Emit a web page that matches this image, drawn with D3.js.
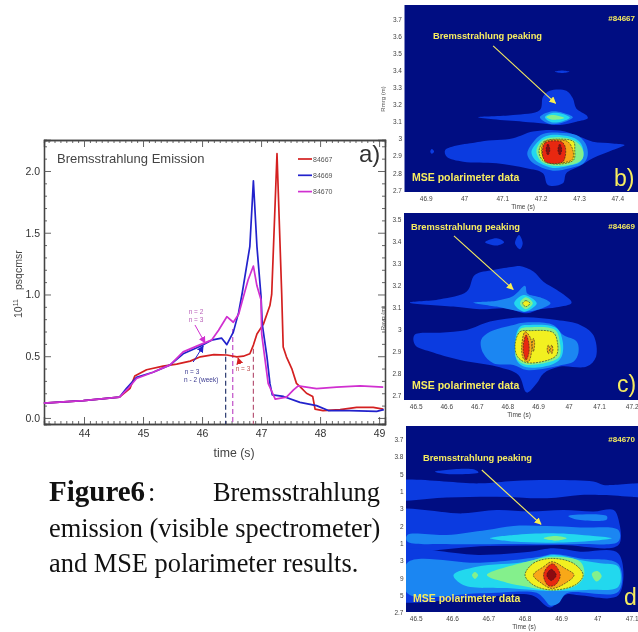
<!DOCTYPE html>
<html>
<head>
<meta charset="utf-8">
<script src="https://cdn.jsdelivr.net/npm/d3@7"></script>
<style>
  html, body { margin: 0; padding: 0; background: #fff; }
  svg { display: block; }
  text { font-family: "Liberation Sans", Arial, sans-serif; }
  .frame .domain { stroke: #444; stroke-width: 1.3; }
  .frame .tick line { stroke: #555; stroke-width: 0.9; }
  .frame .tick text { fill: #333; font-size: 10.5px; }
  .panel .tick text { fill: #444; font-size: 6.5px; }
  .panel .tick line, .panel .domain { display: none; }
</style>
</head>
<body>
<div id="chart"></div>
<script>
// ---- panel a) Bremsstrahlung emission ----
var sharedTime = [43.32, 43.99, 44.6];
var sharedValue = [0.12, 0.14, 0.168];

var time84667 = [44.78, 44.86, 45.06, 45.34, 45.57, 45.8, 45.97, 46.2, 46.42, 46.59, 46.7, 46.81, 46.87, 46.93, 47.04, 47.15, 47.18, 47.27, 47.35, 47.375, 47.43, 47.52, 47.6, 47.66, 47.77, 47.875, 47.915, 48.05, 48.34, 48.62, 48.9, 49.07];
var value84667 = [0.24, 0.34, 0.39, 0.42, 0.436, 0.46, 0.495, 0.513, 0.51, 0.495, 0.5, 0.52, 0.59, 0.68, 0.76, 0.91, 1.0, 2.14, 1.0, 0.575, 0.495, 0.4, 0.28, 0.254, 0.2, 0.174, 0.072, 0.06, 0.067, 0.085, 0.085, 0.072];

var time84669 = [44.72, 44.89, 45.17, 45.46, 45.68, 45.97, 46.16, 46.33, 46.42, 46.53, 46.62, 46.68, 46.81, 46.87, 46.93, 47.0, 47.02, 47.1, 47.15, 47.19, 47.38, 47.66, 47.94, 48.14, 48.5, 48.96, 49.08];
var value84669 = [0.24, 0.33, 0.37, 0.43, 0.52, 0.58, 0.63, 0.647, 0.594, 0.695, 0.855, 1.01, 1.39, 1.92, 1.39, 0.98, 0.76, 0.495, 0.28, 0.187, 0.174, 0.126, 0.1, 0.06, 0.06, 0.053, 0.067];

var time84670 = [44.75, 44.89, 45.17, 45.46, 45.68, 45.97, 46.16, 46.28, 46.42, 46.53, 46.62, 46.7, 46.78, 46.87, 46.93, 47.0, 47.01, 47.12, 47.24, 47.43, 47.55, 47.63, 47.94, 48.28, 48.68, 49.07];
var value84670 = [0.24, 0.32, 0.37, 0.43, 0.535, 0.594, 0.63, 0.71, 0.82, 0.775, 0.84, 0.98, 1.117, 1.23, 1.07, 0.955, 0.68, 0.28, 0.152, 0.168, 0.227, 0.26, 0.238, 0.25, 0.26, 0.249];

var seriesNames = ['84667', '84669', '84670'];
var seriesColors = ['#d42020', '#2222cc', '#d030d0'];

var xTickLabels = [44, 45, 46, 47, 48, 49];
var yTickLabels = [0, 0.5, 1, 1.5, 2];

// 放電ごとの破線 [time, top value]
var dashTimes = [46.4, 46.52, 46.87];
var dashTops = [0.56, 0.72, 0.56];
var dashColors = ['#2b3a70', '#c050c8', '#b85878'];

// ---- contour panels: [level, [[time, R], ...]] ----
var levelColors = ['#000d82', '#0b3be0', '#1b86f2', '#22d8ee', '#84f08c', '#f2f020', '#f8a818', '#e82810', '#8c0a10'];

var regions84667 = [
  [1, [[46.951,2.934],[47.042,2.983],[47.128,3.003],[47.18,3.042],[47.25,3.048],[47.30,3.013],[47.336,2.983],[47.388,2.973],[47.419,2.964],[47.388,2.934],[47.336,2.886],[47.30,2.837],[47.267,2.798],[47.258,2.739],[47.219,2.729],[47.206,2.798],[47.163,2.827],[47.085,2.856],[46.998,2.866],[46.955,2.895]]],
  [1, [[47.037,3.126],[47.128,3.139],[47.198,3.169],[47.206,3.247],[47.224,3.282],[47.267,3.282],[47.284,3.237],[47.293,3.178],[47.319,3.139],[47.323,3.12],[47.293,3.10],[47.25,3.081],[47.206,3.09],[47.154,3.10],[47.076,3.114]]],
  [1, [[47.237,3.393],[47.256,3.40],[47.275,3.393],[47.256,3.386]]],
  [1, [[46.912,2.925],[46.916,2.94],[46.922,2.925],[46.916,2.912]]],
  [2, [[47.165,2.915],[47.185,2.993],[47.206,3.028],[47.25,3.036],[47.293,3.022],[47.317,2.973],[47.323,2.905],[47.312,2.856],[47.276,2.827],[47.232,2.813],[47.189,2.846],[47.172,2.876]]],
  [3, [[47.176,2.925],[47.193,2.983],[47.215,3.016],[47.25,3.022],[47.289,3.003],[47.306,2.97],[47.312,2.905],[47.302,2.862],[47.271,2.84],[47.232,2.829],[47.198,2.856],[47.182,2.886]]],
  [4, [[47.189,2.934],[47.206,2.993],[47.25,3.009],[47.293,2.983],[47.31,2.934],[47.31,2.886],[47.293,2.856],[47.241,2.841],[47.206,2.86],[47.193,2.895]]],
  [5, [[47.196,2.934],[47.208,2.983],[47.25,2.998],[47.286,2.983],[47.289,2.934],[47.286,2.876],[47.25,2.852],[47.21,2.866],[47.199,2.895]]],
  [6, [[47.202,2.934],[47.211,2.983],[47.25,2.993],[47.271,2.983],[47.284,2.934],[47.283,2.88],[47.258,2.86],[47.213,2.872]]],
  [7, [[47.205,2.934],[47.212,2.977],[47.254,2.983],[47.264,2.954],[47.264,2.895],[47.256,2.862],[47.215,2.862],[47.206,2.895]]],
  [8, [[47.219,2.97],[47.224,2.934],[47.219,2.905],[47.214,2.934]]],
  [8, [[47.25,2.97],[47.255,2.934],[47.25,2.905],[47.245,2.934]]],
  [2, [[47.198,3.126],[47.224,3.159],[47.258,3.153],[47.284,3.126],[47.258,3.095],[47.224,3.087]]],
  [3, [[47.211,3.126],[47.228,3.15],[47.258,3.145],[47.276,3.124],[47.258,3.103],[47.228,3.097]]],
  [4, [[47.215,3.128],[47.23,3.14],[47.262,3.122],[47.23,3.112]]]
];

var regions84669 = [
  [1, [[46.496,2.975],[46.58,2.986],[46.667,2.998],[46.743,3.036],[46.852,3.056],[46.961,3.043],[47.038,3.021],[47.081,2.975],[47.09,2.877],[47.059,2.832],[46.972,2.832],[46.918,2.801],[46.896,2.756],[46.863,2.714],[46.836,2.794],[46.765,2.832],[46.645,2.862],[46.547,2.90],[46.498,2.93]]],
  [2, [[46.714,2.953],[46.743,2.99],[46.82,3.021],[46.852,3.031],[46.95,3.021],[46.983,2.975],[47.027,2.945],[47.032,2.892],[47.016,2.854],[46.977,2.839],[46.928,2.824],[46.863,2.816],[46.82,2.839],[46.754,2.847],[46.721,2.892]]],
  [3, [[46.825,2.945],[46.841,3.013],[46.874,3.021],[46.961,3.006],[46.981,2.945],[46.977,2.877],[46.95,2.844],[46.863,2.829],[46.833,2.854]]],
  [4, [[46.825,2.922],[46.841,3.001],[46.874,3.01],[46.956,2.998],[46.972,2.938],[46.97,2.877],[46.939,2.854],[46.858,2.842],[46.83,2.869]]],
  [5, [[46.825,2.93],[46.841,2.99],[46.874,2.995],[46.95,2.986],[46.964,2.938],[46.961,2.885],[46.934,2.862],[46.863,2.85],[46.833,2.877]]],
  [6, [[46.847,2.93],[46.858,2.99],[46.876,2.96],[46.879,2.90],[46.868,2.854],[46.852,2.869]]],
  [7, [[46.852,2.93],[46.861,2.975],[46.87,2.938],[46.87,2.892],[46.861,2.862],[46.853,2.892]]],
  [6, [[46.885,2.96],[46.889,2.94],[46.885,2.90],[46.881,2.93]]],
  [6, [[46.934,2.93],[46.938,2.91],[46.934,2.89],[46.93,2.91]]],
  [6, [[46.945,2.93],[46.949,2.91],[46.945,2.89],[46.941,2.91]]],
  [1, [[46.481,3.122],[46.58,3.137],[46.667,3.172],[46.694,3.248],[46.754,3.27],[46.819,3.285],[46.841,3.288],[46.885,3.263],[46.918,3.217],[46.961,3.18],[47.01,3.122],[46.961,3.101],[46.907,3.092],[46.863,3.074],[46.798,3.096],[46.71,3.092],[46.623,3.104]]],
  [1, [[46.727,3.396],[46.765,3.414],[46.789,3.396],[46.765,3.381]]],
  [1, [[46.825,3.391],[46.838,3.429],[46.85,3.391],[46.841,3.364]]],
  [2, [[46.689,3.122],[46.765,3.131],[46.819,3.152],[46.858,3.198],[46.865,3.164],[46.907,3.146],[46.941,3.119],[46.907,3.093],[46.852,3.081],[46.765,3.104]]],
  [3, [[46.822,3.119],[46.854,3.157],[46.896,3.119],[46.854,3.081]]],
  [4, [[46.841,3.119],[46.86,3.146],[46.883,3.119],[46.86,3.092]]],
  [5, [[46.85,3.119],[46.86,3.131],[46.874,3.119],[46.86,3.104]]]
];

var regions84670 = [
  [1, [[46.553,3.513],[46.659,3.527],[46.673,3.508],[46.586,3.50]]],
  [1, [[46.42,3.446],[46.677,3.446],[46.769,3.46],[46.879,3.465],[46.989,3.456],[47.017,3.437],[47.045,3.437],[47.18,3.437],[47.18,3.379],[47.017,3.379],[46.953,3.379],[46.861,3.36],[46.723,3.369],[46.585,3.365],[46.42,3.36]]],
  [1, [[46.42,3.277],[46.631,3.273],[46.723,3.292],[46.815,3.283],[46.907,3.292],[46.989,3.283],[47.045,3.292],[47.058,3.24],[47.058,3.09],[46.9,3.09],[46.7,3.085],[46.42,3.085]]],
  [2, [[46.92,3.258],[47.026,3.258],[47.026,3.238],[46.943,3.238]]],
  [2, [[46.477,3.148],[46.585,3.148],[46.696,3.177],[46.769,3.20],[46.861,3.20],[46.953,3.192],[47.058,3.177],[47.058,3.11],[46.953,3.096],[46.769,3.096],[46.585,3.096],[46.477,3.11]]],
  [3, [[46.705,3.129],[46.769,3.148],[46.879,3.158],[46.989,3.142],[47.04,3.129],[46.989,3.115],[46.879,3.104],[46.769,3.11]]],
  [4, [[46.852,3.129],[46.884,3.142],[46.916,3.129],[46.884,3.115]]],
  [1, [[46.42,3.042],[46.677,3.033],[46.815,3.052],[46.879,3.071],[46.953,3.052],[47.058,3.042],[47.058,2.80],[46.95,2.80],[46.915,2.805],[46.87,2.73],[46.82,2.80],[46.677,2.79],[46.42,2.79]]],
  [2, [[46.477,2.988],[46.677,2.988],[46.843,3.023],[46.879,3.038],[46.953,3.013],[47.058,2.981],[47.058,2.821],[46.916,2.812],[46.893,2.754],[46.87,2.742],[46.852,2.783],[46.833,2.815],[46.677,2.812],[46.477,2.812]]],
  [3, [[46.604,2.917],[46.668,2.965],[46.806,2.994],[46.879,3.033],[46.953,3.004],[47.008,2.985],[47.058,2.965],[47.058,2.85],[46.971,2.831],[46.861,2.827],[46.769,2.84],[46.631,2.86]]],
  [4, [[46.696,2.917],[46.806,2.994],[46.879,3.023],[46.953,2.994],[46.964,2.917],[46.944,2.86],[46.879,2.827],[46.806,2.85],[46.751,2.873]]],
  [4, [[46.655,2.917],[46.663,2.935],[46.672,2.917],[46.663,2.895]]],
  [4, [[46.985,2.925],[47.0,2.94],[47.012,2.91],[46.998,2.88]]],
  [5, [[46.801,2.917],[46.824,2.985],[46.875,3.013],[46.934,2.985],[46.961,2.917],[46.939,2.86],[46.875,2.831],[46.824,2.86]]],
  [6, [[46.824,2.917],[46.852,2.965],[46.875,2.994],[46.911,2.956],[46.936,2.917],[46.911,2.869],[46.875,2.84],[46.847,2.869]]],
  [7, [[46.852,2.917],[46.865,2.969],[46.879,2.981],[46.898,2.917],[46.884,2.86],[46.865,2.856]]],
  [8, [[46.861,2.917],[46.873,2.95],[46.887,2.917],[46.873,2.885]]]
];

var panelBTicks = [46.9, 47, 47.1, 47.2, 47.3, 47.4];
var panelBRadii = [3.7, 3.6, 3.5, 3.4, 3.3, 3.2, 3.1, 3, 2.9, 2.8, 2.7];
var panelCTicks = [46.5, 46.6, 46.7, 46.8, 46.9, 47, 47.1, 47.2];
var panelCRadii = [3.5, 3.4, 3.3, 3.2, 3.1, 3, 2.9, 2.8, 2.7];
var panelDTicks = [46.5, 46.6, 46.7, 46.8, 46.9, 47, 47.1];
var panelDRadii = [3.7, 3.6, 3.5, 3.4, 3.3, 3.2, 3.1, 3, 2.9, 2.8, 2.7];
// 左側が切れて見えているラベル
var panelDRadiusLabels = ['3.7', '3.8', '5', '1', '3', '2', '1', '3', '9', '5', '2.7'];

var width = 638;
var height = 632;

var svg = d3.select('#chart').append('svg').attr('width', width).attr('height', height);

var defs = svg.append('defs');
function addMarker(id, color) {
  defs.append('marker').attr('id', id)
    .attr('viewBox', '0 0 10 10').attr('refX', 9).attr('refY', 5)
    .attr('markerWidth', 7).attr('markerHeight', 7).attr('markerUnits', 'userSpaceOnUse')
    .attr('orient', 'auto')
    .append('path').attr('d', 'M0,0L10,5L0,10z').attr('fill', color);
}
addMarker('arrowMagenta', '#d030d0');
addMarker('arrowBlue', '#2222cc');
addMarker('arrowRed', '#d42020');
addMarker('arrowYellow', '#f8ee50');

// ---- a) ----
var plotLeft = 44, plotRight = 385, plotTop = 140, plotBottom = 424;
var xScale = d3.scaleLinear().domain([43.322, 49.1]).range([plotLeft, plotRight]);
var yScale = d3.scaleLinear().domain([-0.049, 2.251]).range([plotBottom, plotTop]);

var a = svg.append('g').style('filter', 'blur(0.35px)');

var xMinor = d3.range(43.4, 49.1, 0.1).filter(function(d) { return Math.abs(d - Math.round(d)) > 0.01; });
var yMinor = d3.range(0, 2.3, 0.1).filter(function(d) { return Math.abs(d * 2 - Math.round(d * 2)) > 0.01; });

function axisPair(make, scale, majors, minors, pos, format, pad) {
  var g = a.append('g').attr('class', 'frame').attr('transform', pos);
  g.call(make(scale).tickValues(minors).tickSize(-3).tickFormat(''));
  var g2 = a.append('g').attr('class', 'frame').attr('transform', pos);
  g2.call(make(scale).tickValues(majors).tickSize(-7).tickPadding(pad).tickFormat(format));
}
var blank = function() { return ''; };
axisPair(d3.axisBottom, xScale, xTickLabels, xMinor, 'translate(0,' + plotBottom + ')', d3.format('d'), 6);
axisPair(d3.axisTop, xScale, xTickLabels, xMinor, 'translate(0,' + plotTop + ')', blank, 6);
axisPair(d3.axisLeft, yScale, yTickLabels, yMinor, 'translate(' + plotLeft + ',0)', d3.format('.1f'), 4);
axisPair(d3.axisRight, yScale, yTickLabels, yMinor, 'translate(' + plotRight + ',0)', blank, 4);

a.append('text').attr('x', 57).attr('y', 163).attr('font-size', 13).attr('fill', '#444').text('Bremsstrahlung Emission');
a.append('text').attr('x', 359).attr('y', 162).attr('font-size', 24).attr('fill', '#333').text('a)');
a.append('text').attr('x', 234).attr('y', 457).attr('text-anchor', 'middle').attr('font-size', 12.3).attr('fill', '#444').text('time (s)');

a.append('text').attr('transform', 'translate(22,290) rotate(-90)').attr('font-size', 10.5).attr('fill', '#444').text('psqcmsr');
var tenLabel = a.append('text').attr('transform', 'translate(22,318) rotate(-90)').attr('font-size', 10.5).attr('fill', '#444');
tenLabel.append('tspan').text('10');
tenLabel.append('tspan').attr('dy', -4).attr('font-size', 7).text('11');

var line = d3.line()
  .x(function(d) { return xScale(d[0]); })
  .y(function(d) { return yScale(d[1]); });

dashTimes.forEach(function(t, i) {
  a.append('line')
    .attr('x1', xScale(t)).attr('x2', xScale(t))
    .attr('y1', yScale(dashTops[i])).attr('y2', plotBottom)
    .attr('stroke', dashColors[i]).attr('stroke-width', 1.2).attr('stroke-dasharray', '5,3');
});

[[time84667, value84667], [time84669, value84669], [time84670, value84670]].forEach(function(s, i) {
  var pts = d3.zip(sharedTime.concat(s[0]), sharedValue.concat(s[1]));
  a.append('path').datum(pts).attr('d', line)
    .attr('fill', 'none').attr('stroke', seriesColors[i]).attr('stroke-width', 1.7).attr('stroke-linejoin', 'round');
});

// 凡例
seriesNames.forEach(function(name, i) {
  var ly = 159 + i * 16.3;
  a.append('line').attr('x1', 298).attr('x2', 312).attr('y1', ly).attr('y2', ly)
    .attr('stroke', seriesColors[i]).attr('stroke-width', 1.7);
  a.append('text').attr('x', 313).attr('y', ly + 2.5).attr('font-size', 7).attr('fill', '#555').text(name);
});

// モード注記
function note(x, y, str, color, anchor) {
  a.append('text').attr('x', x).attr('y', y).attr('font-size', 6.5)
    .attr('text-anchor', anchor || 'middle').attr('fill', color).text(str);
}
function noteArrow(t1, v1, t2, v2, color, marker) {
  a.append('line')
    .attr('x1', xScale(t1)).attr('y1', yScale(v1))
    .attr('x2', xScale(t2)).attr('y2', yScale(v2))
    .attr('stroke', color).attr('stroke-width', 1)
    .attr('marker-end', 'url(#' + marker + ')');
}
note(196, 314, 'n = 2', '#b860b8');
note(196, 322, 'n = 3', '#b860b8');
noteArrow(45.88, 0.753, 46.05, 0.607, '#d030d0', 'arrowMagenta');
note(192, 374, 'n = 3', '#3a3a90');
note(184, 382, 'n - 2 (week)', '#3a3a90', 'start');
noteArrow(45.85, 0.453, 46.02, 0.583, '#2222cc', 'arrowBlue');
note(243, 371, 'n = 3', '#c05050');
noteArrow(46.64, 0.437, 46.61, 0.486, '#d42020', 'arrowRed');

// ---- b) c) d) ----
var blob = d3.line().curve(d3.curveCatmullRomClosed.alpha(0.5));

function drawPanel(cfg) {
  var g = svg.append('g').attr('class', 'panel').style('filter', 'blur(0.5px)');
  var x = d3.scaleLinear().domain(cfg.xDomain).range(cfg.xRange);
  var y = d3.scaleLinear().domain(cfg.yDomain).range(cfg.yRange);
  var clipId = 'clip' + cfg.letter;

  defs.append('clipPath').attr('id', clipId).append('rect')
    .attr('x', cfg.box[0]).attr('y', cfg.box[1]).attr('width', cfg.box[2]).attr('height', cfg.box[3]);

  g.append('rect').attr('x', cfg.box[0]).attr('y', cfg.box[1]).attr('width', cfg.box[2]).attr('height', cfg.box[3])
    .attr('fill', levelColors[0]);

  var body = g.append('g').attr('clip-path', 'url(#' + clipId + ')');
  body.selectAll('path.region').data(cfg.regions).enter().append('path')
    .attr('class', 'region')
    .attr('d', function(d) {
      return blob(d[1].map(function(p) { return [x(p[0]), y(p[1])]; }));
    })
    .attr('fill', function(d) { return levelColors[d[0]]; })
    .attr('stroke', function(d) { return d[0] >= 5 ? '#222' : 'none'; })
    .attr('stroke-width', 0.6)
    .attr('stroke-dasharray', '2,1');

  var boxBottom = cfg.box[1] + cfg.box[3];
  var xAxisG = g.append('g').attr('transform', 'translate(0,' + boxBottom + ')')
    .call(d3.axisBottom(x).tickValues(cfg.xTicks).tickSize(0).tickPadding(4).tickFormat(d3.format('~g')));
  // 右端で切れるラベルは右寄せにする
  xAxisG.selectAll('.tick text').filter(function(d) { return x(d) > 628; })
    .attr('text-anchor', 'end').attr('dx', width - x(cfg.xTicks[cfg.xTicks.length - 1]));
  var yLabels = cfg.yLabels;
  g.append('g').attr('transform', 'translate(' + cfg.box[0] + ',0)')
    .call(d3.axisLeft(y).tickValues(cfg.yTicks).tickSize(0).tickPadding(2.5)
      .tickFormat(function(d, i) { return yLabels ? yLabels[i] : d3.format('~g')(d); }));

  g.append('text').attr('x', cfg.timeX).attr('y', boxBottom + 17).attr('text-anchor', 'middle')
    .attr('font-size', 6.5).attr('fill', '#444').text('Time (s)');
  if (cfg.yName) {
    g.append('text').attr('transform', 'translate(385,' + cfg.yNameY + ') rotate(-90)')
      .attr('text-anchor', 'middle').attr('font-size', 6).attr('fill', '#555').text(cfg.yName);
  }

  // 注記
  var yellow = '#f6ec60';
  g.append('line')
    .attr('x1', x(cfg.arrow[0])).attr('y1', y(cfg.arrow[1]))
    .attr('x2', x(cfg.arrow[2])).attr('y2', y(cfg.arrow[3]))
    .attr('stroke', yellow).attr('stroke-width', 1.1).attr('marker-end', 'url(#arrowYellow)');
  g.append('text').attr('x', cfg.peakLabel[0]).attr('y', cfg.peakLabel[1])
    .attr('font-size', 9.3).attr('font-weight', 'bold').attr('fill', yellow).text('Bremsstrahlung peaking');
  g.append('text').attr('x', 635).attr('y', cfg.box[1] + 16).attr('text-anchor', 'end')
    .attr('font-size', 8).attr('font-weight', 'bold').attr('fill', yellow).text(cfg.shot);
  g.append('text').attr('x', cfg.mseLabel[0]).attr('y', cfg.mseLabel[1])
    .attr('font-size', 10.5).attr('font-weight', 'bold').attr('fill', yellow).text('MSE polarimeter data');
  g.append('text').attr('x', cfg.letterPos[0]).attr('y', cfg.letterPos[1])
    .attr('font-size', 23).attr('fill', yellow).text(cfg.letterText);
}

drawPanel({
  letter: 'b', letterText: 'b)', shot: '#84667', regions: regions84667,
  box: [404.5, 5, 233.5, 187],
  xDomain: [47, 47.4], xRange: [464, 617.3],
  yDomain: [2.7, 3.7], yRange: [190, 19.3],
  xTicks: panelBTicks, yTicks: panelBRadii,
  timeX: 523, yName: 'Rmrg (m)', yNameY: 99,
  arrow: [47.076, 3.544, 47.239, 3.208],
  peakLabel: [433, 39], mseLabel: [412, 181], letterPos: [614, 186]
});
drawPanel({
  letter: 'c', letterText: 'c)', shot: '#84669', regions: regions84669,
  box: [404, 213, 234, 187],
  xDomain: [46.5, 47.2], xRange: [415.7, 629.7],
  yDomain: [2.7, 3.5], yRange: [395.7, 219.3],
  xTicks: panelCTicks, yTicks: panelCRadii,
  timeX: 519, yName: 'Ravg (m)', yNameY: 318,
  arrow: [46.625, 3.425, 46.819, 3.182],
  peakLabel: [411, 230], mseLabel: [412, 389], letterPos: [617, 392]
});
drawPanel({
  letter: 'd', letterText: 'd', shot: '#84670', regions: regions84670,
  box: [406, 426, 232, 186],
  xDomain: [46.5, 47], xRange: [415.7, 597.3],
  yDomain: [2.7, 3.7], yRange: [612.7, 439.3],
  xTicks: panelDTicks, yTicks: panelDRadii, yLabels: panelDRadiusLabels,
  timeX: 524, yName: null,
  arrow: [46.682, 3.523, 46.845, 3.21],
  peakLabel: [423, 461], mseLabel: [413, 602], letterPos: [624, 605]
});

// ---- キャプション ----
var serif = '"Liberation Serif", serif';
var cap = svg.append('g').attr('font-size', 26.4).attr('fill', '#111');
cap.append('text').attr('x', 49).attr('y', 501).style('font-family', serif)
  .attr('font-weight', 'bold').attr('font-size', 29).text('Figure6');
cap.append('text').attr('x', 148).attr('y', 501).style('font-family', serif).text(':');
cap.append('text').attr('x', 380).attr('y', 501).attr('text-anchor', 'end').style('font-family', serif).text('Bremsstrahlung');
cap.append('text').attr('x', 49).attr('y', 537).style('font-family', serif).text('emission (visible spectrometer)');
cap.append('text').attr('x', 49).attr('y', 572).style('font-family', serif).text('and MSE polarimeter results.');
</script>
</body>
</html>
